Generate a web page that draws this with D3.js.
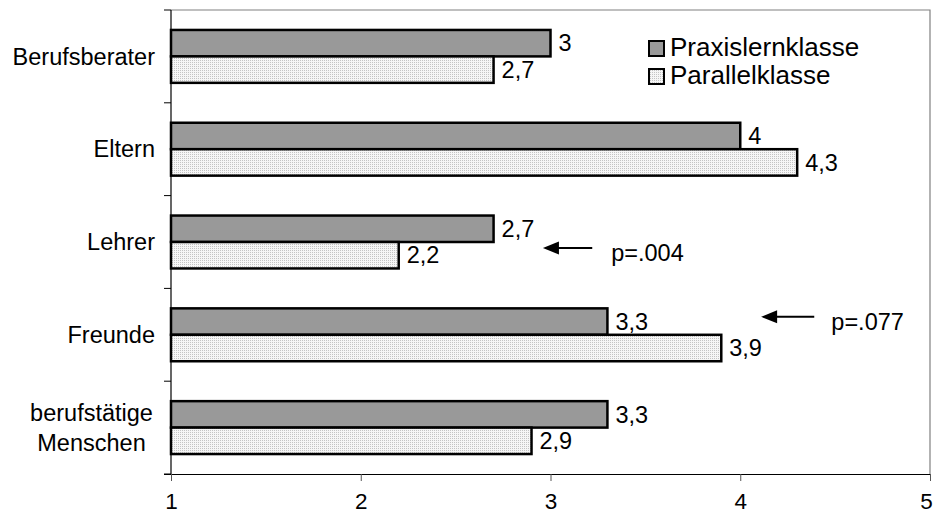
<!DOCTYPE html>
<html><head><meta charset="utf-8">
<script src="https://cdn.jsdelivr.net/npm/d3@7"></script>
<style>
html,body{margin:0;padding:0;background:#fff;}
svg{display:block;font-family:"Liberation Sans",Arial,sans-serif;}
</style></head>
<body>
<svg id="chart" width="935" height="516"></svg>
<script>
const categories = ["Berufsberater", "Eltern", "Lehrer", "Freunde", "berufstätige\nMenschen"];
const seriesNames = ["Praxislernklasse", "Parallelklasse"];
const praxis = [3, 4, 2.7, 3.3, 3.3];
const parallel = [2.7, 4.3, 2.2, 3.9, 2.9];
const valueLabels = [["3","4","2,7","3,3","3,3"],["2,7","4,3","2,2","3,9","2,9"]];
const xTicks = [1, 2, 3, 4, 5];
const annotations = [
  {cat: "Lehrer", head: 2.96, tail: 3.22, text: "p=.004", textAt: 3.32},
  {cat: "Freunde", head: 4.11, tail: 4.39, text: "p=.077", textAt: 4.48}
];

(function(){
const svg = d3.select("#chart");
const defs = svg.append("defs");
const pat = defs.append("pattern").attr("id","dots").attr("patternUnits","userSpaceOnUse")
  .attr("width",2).attr("height",2);
pat.append("rect").attr("width",2).attr("height",2).attr("fill","#f6f6f6");
pat.append("rect").attr("width",1).attr("height",1).attr("fill","#c4c4c4");

const FS = 23.5;
const mL = 171, mR = 930, mT = 10, mB = 474;
const x = d3.scaleLinear().domain([1,5]).range([mL,mR]);
const y = d3.scaleBand().domain(categories).range([mT,mB]).paddingInner(0.43).paddingOuter(0.215);
const yBand = d3.scaleBand().domain(categories).range([mT,mB]);
const sub = d3.scaleBand().domain(seriesNames).range([0,y.bandwidth()]);
const fills = ["#999999","url(#dots)"];
const series = [praxis, parallel];

// frame (top & right)
svg.append("path").attr("d",`M${mL},${mT}H${mR}V${mB}`).attr("fill","none")
  .attr("stroke","#808080").attr("stroke-width",1.2);

// bars
series.forEach((vals,si)=>{
  svg.append("g").selectAll("rect").data(categories).join("rect")
    .attr("x", x(1))
    .attr("y", c=>y(c)+sub(seriesNames[si]))
    .attr("width", (c,i)=>x(vals[i])-x(1))
    .attr("height", sub.bandwidth())
    .attr("fill", fills[si]).attr("stroke","#000").attr("stroke-width",2.5);
  svg.append("g").selectAll("text").data(categories).join("text")
    .attr("x",(c,i)=>x(vals[i])+8)
    .attr("y", c=>y(c)+sub(seriesNames[si])+sub.bandwidth()/2)
    .attr("dy","0.35em").attr("font-size",FS).attr("fill","#000")
    .text((c,i)=>valueLabels[si][i]);
});

// x axis
const xAxis = d3.axisBottom(x).tickValues(xTicks).tickFormat(d3.format("d")).tickSize(7).tickSizeOuter(0).tickPadding(12);
const gx = svg.append("g").attr("transform",`translate(0,${mB})`).call(xAxis);
gx.select(".domain").attr("d",`M${mL-7},0.5H${mR}`).attr("stroke","#000");
gx.selectAll(".tick line").attr("stroke","#555");
gx.selectAll(".tick text").attr("font-size",22.5).attr("fill","#000").attr("font-family","Liberation Sans, Arial, sans-serif")
  .attr("dx", d=> d===5 ? -4 : 0);

// y axis line and ticks at band boundaries
const bounds = categories.map(c=>yBand(c)).concat([mB]);
svg.append("line").attr("x1",mL).attr("x2",mL).attr("y1",mT).attr("y2",mB).attr("stroke","#000").attr("stroke-width",1.2);
svg.append("g").selectAll("line").data(bounds).join("line")
  .attr("x1",mL-7).attr("x2",mL).attr("y1",d=>d).attr("y2",d=>d).attr("stroke","#000");

// category labels
categories.forEach(c=>{
  const lines = c.split("\n");
  const cy = y(c)+y.bandwidth()/2;
  const t = svg.append("text").attr("font-size",FS).attr("fill","#000");
  if(lines.length===1){
    t.attr("x",155).attr("y",cy).attr("dy","0.35em").attr("text-anchor","end").text(c);
  } else {
    t.attr("text-anchor","middle");
    const lh = 30;
    lines.forEach((ln,k)=>{
      t.append("tspan").attr("x",91.5).attr("y",cy+(k-(lines.length-1)/2)*lh).attr("dy","0.35em").text(ln);
    });
  }
});

// annotations
annotations.forEach(a=>{
  const idx = categories.indexOf(a.cat);
  const ay = y(a.cat) + (idx===2 ? y.bandwidth()/2+6 : 8.5);
  const hx = x(a.head);
  svg.append("line").attr("x1",x(a.tail)).attr("x2",hx+12).attr("y1",ay).attr("y2",ay)
    .attr("stroke","#000").attr("stroke-width",2);
  svg.append("path").attr("d",`M${hx},${ay}L${hx+16},${ay-6.5}L${hx+16},${ay+6.5}Z`).attr("fill","#000");
  svg.append("text").attr("x",x(a.textAt)).attr("y",ay+5).attr("dy","0.35em").attr("font-size",FS).text(a.text);
});

// legend
const legend = svg.append("g");
seriesNames.forEach((s,i)=>{
  legend.append("rect").attr("x",649).attr("y",41+i*28).attr("width",15).attr("height",15)
    .attr("fill",fills[i]).attr("stroke","#000").attr("stroke-width",2);
  legend.append("text").attr("x",670).attr("y",56+i*28).attr("font-size",26).attr("fill","#000").text(s);
});
})();
</script>
</body></html>
